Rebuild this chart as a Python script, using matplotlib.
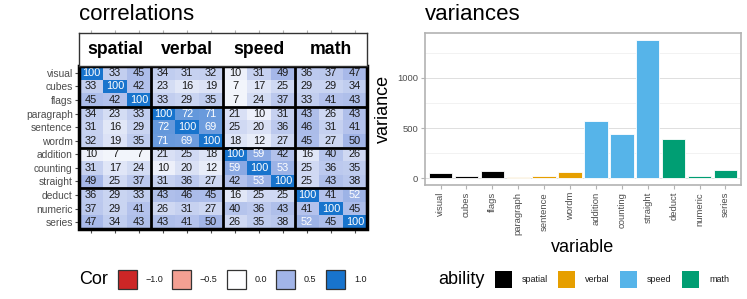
import numpy as np
import matplotlib
matplotlib.use("Agg")
import matplotlib.pyplot as plt
from matplotlib.colors import LinearSegmentedColormap
from matplotlib.patches import Rectangle

plt.rcParams['font.family'] = ['Liberation Sans', 'DejaVu Sans']

# data
variables = ["visual", "cubes", "flags", "paragraph", "sentence", "wordm",
             "addition", "counting", "straight", "deduct", "numeric", "series"]
abilities = ["spatial", "verbal", "speed", "math"]
ability_of = ["spatial"] * 3 + ["verbal"] * 3 + ["speed"] * 3 + ["math"] * 3
cor = [
    [100, 33, 45, 34, 31, 32, 10, 31, 49, 36, 37, 47],
    [33, 100, 42, 23, 16, 19, 7, 17, 25, 29, 29, 34],
    [45, 42, 100, 33, 29, 35, 7, 24, 37, 33, 41, 43],
    [34, 23, 33, 100, 72, 71, 21, 10, 31, 43, 26, 43],
    [31, 16, 29, 72, 100, 69, 25, 20, 36, 46, 31, 41],
    [32, 19, 35, 71, 69, 100, 18, 12, 27, 45, 27, 50],
    [10, 7, 7, 21, 25, 18, 100, 59, 42, 16, 40, 26],
    [31, 17, 24, 10, 20, 12, 59, 100, 53, 25, 36, 35],
    [49, 25, 37, 31, 36, 27, 42, 53, 100, 25, 43, 38],
    [36, 29, 33, 43, 46, 45, 16, 25, 25, 100, 41, 52],
    [37, 29, 41, 26, 31, 27, 40, 36, 43, 41, 100, 45],
    [47, 34, 43, 43, 41, 50, 26, 35, 38, 52, 45, 100],
]
variances = [46, 20, 67, 10, 20, 60, 567, 440, 1380, 390, 23, 83]
cor_breaks = [-1.0, -0.5, 0.0, 0.5, 1.0]
ability_colors = {"spatial": "#000000", "verbal": "#E69F00",
                  "speed": "#56B4E9", "math": "#009E73"}

cmap = LinearSegmentedColormap.from_list(
    "cor", [(0, "#CD2626"), (0.25, "#F4A093"), (0.5, "#FFFFFF"),
            (0.75, "#A4B6E8"), (1, "#1874CD")])

W, H = 747, 299
fig = plt.figure(figsize=(W / 100, H / 100), dpi=100)


def fbox(x0, y0, x1, y1):
    # pixel box (top-left origin) -> figure fraction rect
    return [x0 / W, 1 - y1 / H, (x1 - x0) / W, (y1 - y0) / H]


# ---- correlation heatmap
ax = fig.add_axes(fbox(79, 66, 367, 229))
m = np.array(cor) / 100
n = len(variables)
ax.imshow(m, cmap=cmap, vmin=-1, vmax=1, aspect="auto",
          extent=(-0.5, n - 0.5, n - 0.5, -0.5))
for i in range(n):
    for j in range(n):
        v = cor[i][j]
        ax.text(j, i, str(v), ha="center", va="center", fontsize=7.9,
                color="white" if v > 50 else "#1a1a1a")
for b in [2.5, 5.5, 8.5]:
    ax.axhline(b, color="black", lw=2)
    ax.axvline(b, color="black", lw=2)
ax.add_patch(Rectangle((-0.5, -0.5), n, n, fill=False, ec="black", lw=2.5,
                       clip_on=False, zorder=5))
ax.set_xlim(-0.5, n - 0.5)
ax.set_ylim(n - 0.5, -0.5)
ax.set_yticks(range(n))
ax.set_yticklabels(variables, fontsize=7.4, color="#4D4D4D")
ax.set_xticks(range(n))
ax.set_xticklabels([])
ax.tick_params(length=3, color="#4D4D4D", width=0.8, pad=1.5)
for s in ax.spines.values():
    s.set_color("#B3B3B3")

# strip with ability names
sax = fig.add_axes(fbox(79, 33, 367, 66))
sax.set_xlim(-0.5, n - 0.5)
sax.set_ylim(0, 1)
for k, ab in enumerate(abilities):
    sax.text(3 * k + 1, 0.5, ab, ha="center", va="center", fontsize=12.7,
             fontweight="bold")
sax.set_xticks(range(n))
sax.set_xticklabels([])
sax.set_yticks([])
sax.xaxis.tick_top()
sax.tick_params(axis="x", length=2, color="#B3B3B3", width=0.8)
for s in sax.spines.values():
    s.set_color("#333333")
    s.set_linewidth(1)

fig.text(79 / W, 1 - 15 / H, "correlations", fontsize=16, va="center",
         ha="left")

# ---- variances bar chart
bx = fig.add_axes(fbox(425, 33, 741, 185))
xs = np.arange(len(variables))
bx.bar(xs, variances, width=0.9,
       color=[ability_colors[a] for a in ability_of],
       edgecolor="white", linewidth=0.6, zorder=3)
bx.set_xlim(-0.6, len(variables) - 0.4)
bx.set_ylim(-69, 1449)
bx.set_yticks([0, 500, 1000])
bx.set_yticks([250, 750, 1250], minor=True)
bx.grid(axis="y", which="major", color="#DEDEDE", lw=0.7, zorder=0)
bx.grid(axis="y", which="minor", color="#EDEDED", lw=0.5, zorder=0)
bx.set_xticks(xs)
bx.set_xticklabels(variables, rotation=90, fontsize=6.8, color="#4D4D4D")
bx.tick_params(axis="both", which="major", length=3, color="#B3B3B3",
               width=0.8, labelsize=6.8, labelcolor="#4D4D4D", pad=2)
bx.tick_params(axis="y", which="minor", length=0)
for s in bx.spines.values():
    s.set_color("#B3B3B3")
    s.set_linewidth(1.2)
bx.set_ylabel("variance", fontsize=13, labelpad=4)
bx.set_xlabel("variable", fontsize=13, labelpad=3)

fig.text(425 / W, 1 - 15 / H, "variances", fontsize=16, va="center",
         ha="left")

# ---- legends
ly = 1 - 279 / H
fig.text(79 / W, ly, "Cor", fontsize=13, va="center", ha="left")
cor_keys = [118, 172, 227, 276, 326]
for kx, b in zip(cor_keys, cor_breaks):
    fig.add_artist(Rectangle((kx / W, 1 - 289 / H), 19 / W, 19 / H,
                             transform=fig.transFigure, fc=cmap((b + 1) / 2),
                             ec="#333333", lw=0.9))
    lab = f"{b:.1f}".replace("-", "\u2212")
    fig.text((kx + 28) / W, ly, lab, fontsize=6.5, va="center", ha="left",
             color="#1a1a1a")

fig.text(438 / W, ly, "ability", fontsize=13, va="center", ha="left")
ab_keys = [495, 558, 620, 682]
for kx, ab in zip(ab_keys, abilities):
    fig.add_artist(Rectangle((kx / W, 1 - 288 / H), 17 / W, 17 / H,
                             transform=fig.transFigure,
                             fc=ability_colors[ab], ec="none"))
    fig.text((kx + 27) / W, ly, ab, fontsize=6.5, va="center", ha="left",
             color="#1a1a1a")

fig.savefig("out.png", dpi=100)
